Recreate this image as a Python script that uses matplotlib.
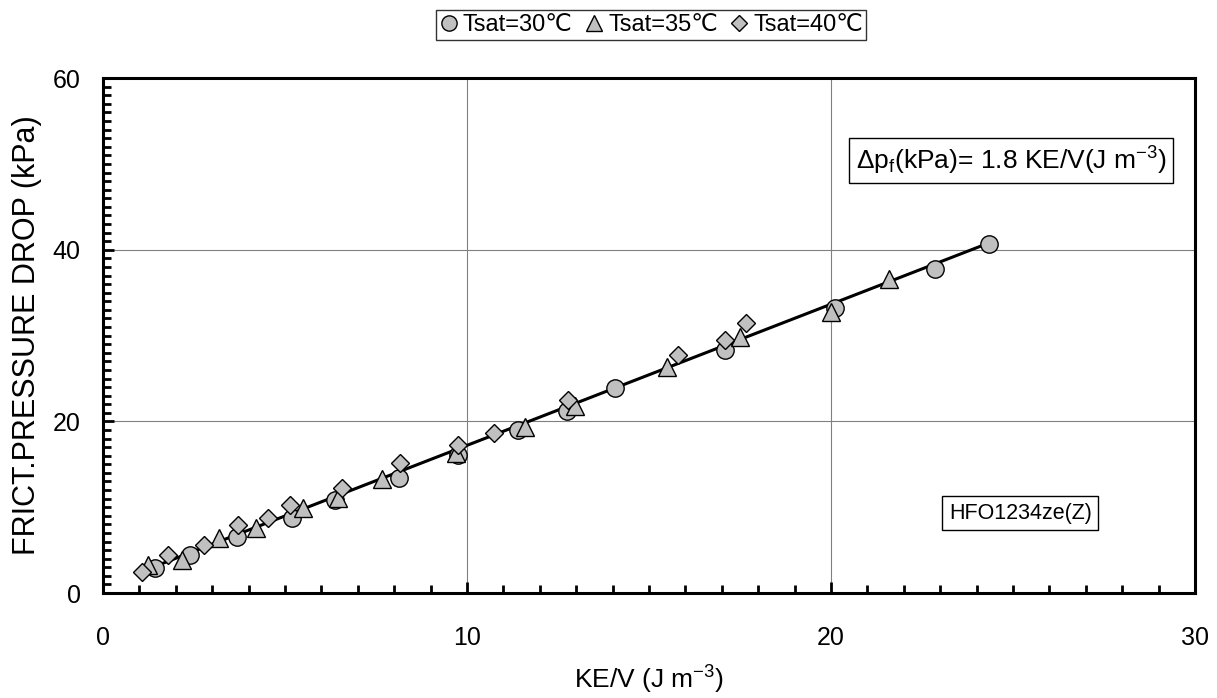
import matplotlib
matplotlib.use("Agg")
import matplotlib.pyplot as plt
from matplotlib.ticker import MultipleLocator

plt.rcParams['font.family'] = ['Liberation Sans', 'DejaVu Sans']
plt.rcParams['mathtext.default'] = 'regular'

# Tsat=30
x30 = [1.43, 2.39, 3.68, 5.19, 6.37, 8.13, 9.75, 11.4, 12.75, 14.07, 17.09, 20.1, 22.86, 24.34]
y30 = [2.9, 4.4, 6.5, 8.7, 10.8, 13.4, 16.1, 19.0, 21.2, 23.9, 28.3, 33.2, 37.8, 40.7]
# Tsat=35
x35 = [1.25, 2.17, 3.2, 4.2, 5.5, 6.45, 7.66, 9.7, 11.6, 12.97, 15.5, 17.5, 20.0, 21.6]
y35 = [3.3, 3.8, 6.4, 7.6, 9.9, 11.1, 13.3, 16.3, 19.3, 21.8, 26.3, 29.8, 32.7, 36.6]
# Tsat=40
x40 = [1.07, 1.79, 2.78, 3.7, 4.53, 5.15, 6.57, 8.16, 9.75, 10.74, 12.78, 15.8, 17.1, 17.67]
y40 = [2.4, 4.4, 5.6, 7.9, 8.8, 10.2, 12.2, 15.1, 17.2, 18.6, 22.5, 27.7, 29.5, 31.5]

# fit line endpoints
fit_x = [1.0, 24.4]
fit_y = [2.4, 40.9]

fig = plt.figure(figsize=(12.17, 6.98), dpi=100)
ax = fig.add_axes([0.0846, 0.1504, 0.8974, 0.7376])

grey = '#C0C0C0'
ax.plot(fit_x, fit_y, color='black', lw=2.2, zorder=2)
ax.plot(x30, y30, 'o', ms=12.5, mfc=grey, mec='black', mew=1, ls='none', label='Tsat=30℃', zorder=3)
ax.plot(x35, y35, '^', ms=12.5, mfc=grey, mec='black', mew=1, ls='none', label='Tsat=35℃', zorder=3)
ax.plot(x40, y40, 'D', ms=9.5, mfc=grey, mec='black', mew=1, ls='none', label='Tsat=40℃', zorder=3)

ax.set_xlim(0, 30)
ax.set_ylim(0, 60)
ax.xaxis.set_major_locator(MultipleLocator(10))
ax.xaxis.set_minor_locator(MultipleLocator(1))
ax.yaxis.set_major_locator(MultipleLocator(20))
ax.yaxis.set_minor_locator(MultipleLocator(1))
ax.grid(True, which='major', color='#808080', lw=0.8, zorder=0)
ax.tick_params(which='both', direction='in', width=2, labelsize=18)
ax.tick_params(axis='x', which='major', length=8, pad=24)
ax.tick_params(axis='y', which='major', length=8, pad=16)
ax.tick_params(which='minor', length=6)
for s in ax.spines.values():
    s.set_linewidth(2.2)

ax.set_xlabel('KE/V (J m$^{-3}$)', fontsize=19, labelpad=10)
ax.set_ylabel('FRICT.PRESSURE DROP (kPa)', fontsize=22, labelpad=8)

ax.text(24.95, 50.4, 'Δp$_f$(kPa)= 1.8 KE/V(J m$^{-3}$)', fontsize=19,
        ha='center', va='center',
        bbox=dict(boxstyle='square,pad=0.25', fc='white', ec='black', lw=1))
ax.text(25.2, 9.3, 'HFO1234ze(Z)', fontsize=15.5, ha='center', va='center',
        bbox=dict(boxstyle='square,pad=0.3', fc='white', ec='black', lw=1))

leg = fig.legend(loc='upper center', bbox_to_anchor=(0.535, 0.985), ncol=3, fontsize=17,
                 frameon=True, fancybox=False, edgecolor='black', handlelength=0.8,
                 handletextpad=0.2, columnspacing=0.5, borderpad=0.15, borderaxespad=0)
leg.get_frame().set_linewidth(1)
for h in leg.legend_handles:
    h.set_markersize(11 if h.get_marker() != 'D' else 8)

fig.savefig('out.png', dpi=100)
